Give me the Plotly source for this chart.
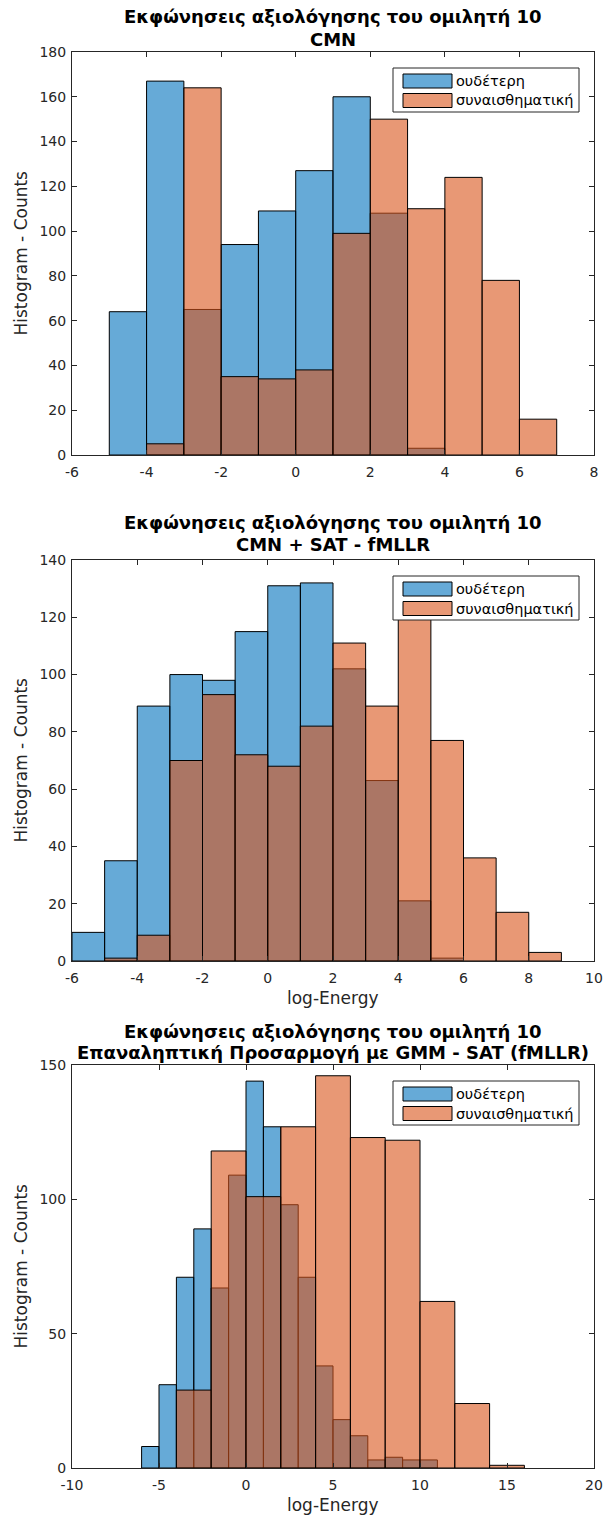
import plotly.graph_objects as go

# ---------------- data ----------------
# Panel 1: CMN  (bin width 1)
p1_neutral_edges = [-5, -4, -3, -2, -1, 0, 1, 2, 3]
p1_neutral_counts = [64, 167, 65, 94, 109, 127, 160, 108, 3]
p1_emotional_edges = [-4, -3, -2, -1, 0, 1, 2, 3, 4, 5, 6]
p1_emotional_counts = [5, 164, 35, 34, 38, 99, 150, 110, 124, 78, 16]

# Panel 2: CMN + SAT - fMLLR  (bin width 1)
p2_neutral_edges = [-6, -5, -4, -3, -2, -1, 0, 1, 2, 3, 4, 5]
p2_neutral_counts = [10, 35, 89, 100, 98, 115, 131, 132, 102, 63, 21, 1]
p2_emotional_edges = [-5, -4, -3, -2, -1, 0, 1, 2, 3, 4, 5, 6, 7, 8]
p2_emotional_counts = [1, 9, 70, 93, 72, 68, 82, 111, 89, 125, 77, 36, 17, 3]

# Panel 3: iterative GMM - SAT (fMLLR)  (neutral bin width 1, emotional bin width 2)
p3_neutral_edges = [-6, -5, -4, -3, -2, -1, 0, 1, 2, 3, 4, 5, 6, 7, 8, 9, 10]
p3_neutral_counts = [8, 31, 71, 89, 67, 109, 144, 127, 98, 71, 38, 18, 12, 3, 4, 3, 3]
p3_emotional_edges = [-4, -2, 0, 2, 4, 6, 8, 10, 12, 14]
p3_emotional_counts = [29, 118, 101, 127, 146, 123, 122, 62, 24, 1]

bin_widths = [(1, 1), (1, 1), (1, 2)]

titles = [
    ("Εκφώνησεις αξιολόγησης του ομιλητή 10", "CMN"),
    ("Εκφώνησεις αξιολόγησης του ομιλητή 10", "CMN + SAT - fMLLR"),
    ("Εκφώνησεις αξιολόγησης του ομιλητή 10", "Επαναληπτική Προσαρμογή με GMM - SAT (fMLLR)"),
]
legend_labels = ["ουδέτερη", "συναισθηματική"]
y_label = "Histogram - Counts"
x_label = "log-Energy"

x_ticks = [list(range(-6, 9, 2)), list(range(-6, 11, 2)), list(range(-10, 21, 5))]
y_ticks = [list(range(0, 181, 20)), list(range(0, 141, 20)), list(range(0, 151, 50))]
x_ranges = [(-6, 8), (-6, 10), (-10, 20)]
y_ranges = [(0, 180), (0, 140), (0, 150)]
show_xlabel = [False, True, True]

# ---------------- layout geometry (pixels) ----------------
W, H = 604, 1519
LEFT, RIGHT = 72, 594
panel_tops = [52, 560, 1065]
panel_bottoms = [455, 961, 1468]
title_line_y = [(17, 39), (523, 544), (1031, 1052)]

BLUE = "rgba(0,114,189,0.6)"
ORANGE = "rgba(217,83,25,0.6)"
AXC = "#262626"
FONT = "DejaVu Sans"


def px_x(x):
    return x / W


def px_y(y):
    return 1 - y / H


series = [
    (p1_neutral_edges, p1_neutral_counts, p1_emotional_edges, p1_emotional_counts),
    (p2_neutral_edges, p2_neutral_counts, p2_emotional_edges, p2_emotional_counts),
    (p3_neutral_edges, p3_neutral_counts, p3_emotional_edges, p3_emotional_counts),
]

fig = go.Figure()
layout = dict(
    width=W, height=H,
    margin=dict(l=0, r=0, t=0, b=0, autoexpand=False),
    paper_bgcolor="white", plot_bgcolor="white",
    barmode="overlay", showlegend=False,
    font=dict(family=FONT, size=13, color=AXC),
)
annotations = []
shapes = []

for i in range(3):
    ax = "" if i == 0 else str(i + 1)
    xname, yname = "x" + ax, "y" + ax
    ne, nc, ee, ec = series[i]
    wn, we = bin_widths[i]
    fig.add_trace(go.Bar(
        x=ne, y=nc, width=[wn] * len(ne), offset=0,
        marker=dict(color=BLUE, line=dict(color="black", width=1)),
        xaxis=xname, yaxis=yname, name=legend_labels[0],
    ))
    fig.add_trace(go.Bar(
        x=ee, y=ec, width=[we] * len(ee), offset=0,
        marker=dict(color=ORANGE, line=dict(color="black", width=1)),
        xaxis=xname, yaxis=yname, name=legend_labels[1],
    ))

    axis_common = dict(
        showline=True, mirror="ticks", linecolor=AXC, linewidth=1,
        ticks="inside", ticklen=5, tickcolor=AXC, tickwidth=1,
        showgrid=False, zeroline=False, automargin=False,
        tickfont=dict(family=FONT, size=14, color=AXC),
    )
    layout["xaxis" + ax] = dict(
        axis_common,
        domain=[px_x(LEFT), px_x(RIGHT)],
        range=list(x_ranges[i]),
        tickvals=x_ticks[i], ticktext=[str(v) for v in x_ticks[i]],
        anchor=yname, ticklabelstandoff=4,
    )
    layout["yaxis" + ax] = dict(
        axis_common,
        domain=[px_y(panel_bottoms[i]), px_y(panel_tops[i])],
        range=list(y_ranges[i]),
        tickvals=y_ticks[i], ticktext=[str(v) for v in y_ticks[i]],
        anchor=xname, ticklabelstandoff=2,
    )

    # axis titles
    annotations.append(dict(
        text=y_label, x=px_x(20), y=px_y((panel_tops[i] + panel_bottoms[i]) / 2),
        xref="paper", yref="paper", xanchor="center", yanchor="middle", textangle=-90,
        showarrow=False, font=dict(family=FONT, size=17, color=AXC),
    ))
    if show_xlabel[i]:
        annotations.append(dict(
            text=x_label, x=px_x((LEFT + RIGHT) / 2), y=px_y(panel_bottoms[i] + 37),
            xref="paper", yref="paper", xanchor="center", yanchor="middle",
            showarrow=False, font=dict(family=FONT, size=17, color=AXC),
        ))

    # title (two lines)
    for txt, yy in zip(titles[i], title_line_y[i]):
        annotations.append(dict(
            text="<b>" + txt + "</b>", x=px_x((LEFT + RIGHT) / 2), y=px_y(yy),
            xref="paper", yref="paper", xanchor="center", yanchor="middle",
            showarrow=False, font=dict(family=FONT, size=18, color="black"),
        ))

    # legend box (drawn in pixel geometry)
    top = panel_tops[i] + 16
    bx0, bx1 = RIGHT - 201, RIGHT - 15
    shapes.append(dict(type="rect", xref="paper", yref="paper",
                       x0=px_x(bx0), x1=px_x(bx1), y0=px_y(top), y1=px_y(top + 44),
                       fillcolor="white", line=dict(color=AXC, width=1), layer="above"))
    for k, col in enumerate((BLUE, ORANGE)):
        sy = top + 6 + k * 19.5
        shapes.append(dict(type="rect", xref="paper", yref="paper",
                           x0=px_x(bx0 + 10), x1=px_x(bx0 + 59),
                           y0=px_y(sy), y1=px_y(sy + 14),
                           fillcolor=col, line=dict(color="black", width=1), layer="above"))
        annotations.append(dict(
            text=legend_labels[k], x=px_x(bx0 + 61), y=px_y(sy + 7),
            xref="paper", yref="paper", xanchor="left", yanchor="middle",
            showarrow=False, font=dict(family=FONT, size=14.5, color="black"),
        ))

layout["annotations"] = annotations
layout["shapes"] = shapes
fig.update_layout(**layout)
fig.write_html("out.html")
